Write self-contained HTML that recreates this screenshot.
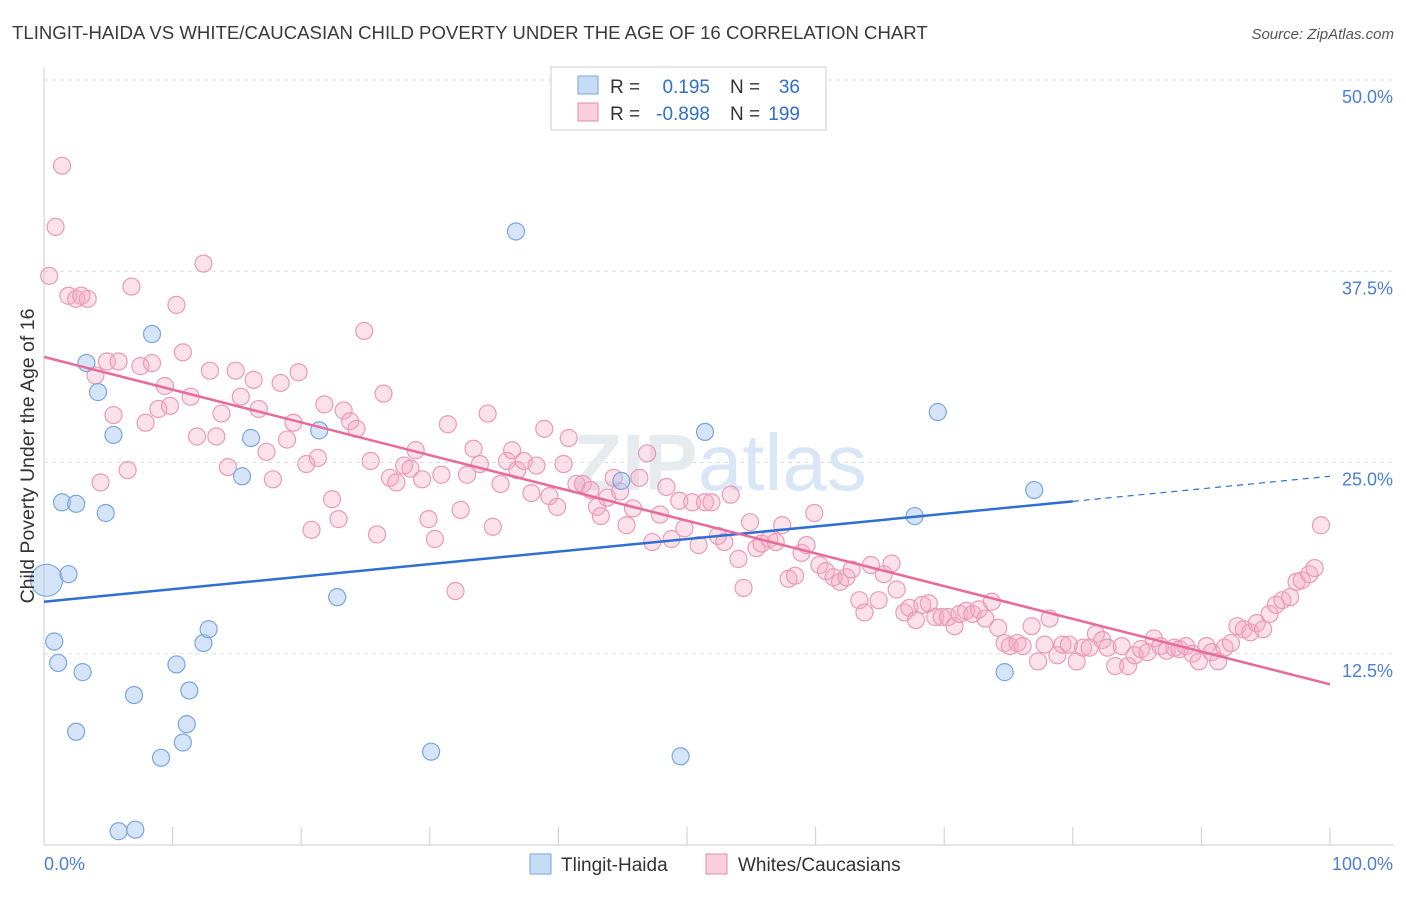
<!DOCTYPE html>
<html><head><meta charset="utf-8"><style>
body{margin:0;background:#fff;font-family:"Liberation Sans",sans-serif;}
svg text{font-family:"Liberation Sans",sans-serif;}
</style></head><body>
<svg id="chart" width="1406" height="892" viewBox="0 0 1406 892" xmlns="http://www.w3.org/2000/svg">
<text x="12" y="39" font-size="18.6" fill="#3a3a3a">TLINGIT-HAIDA VS WHITE/CAUCASIAN CHILD POVERTY UNDER THE AGE OF 16 CORRELATION CHART</text>
<text x="1394" y="39" font-size="15" fill="#555" font-style="italic" text-anchor="end">Source: ZipAtlas.com</text>
<g id="grid"></g>
<text x="720" y="490" font-size="80" fill="#e6ebf0" text-anchor="middle" font-weight="bold">ZIP<tspan fill="#d8e6f5" font-weight="normal">atlas</tspan></text>
<g id="axes"></g>
<g id="marks"></g>
<text transform="translate(34,456) rotate(-90)" font-size="19.5" fill="#333" text-anchor="middle">Child Poverty Under the Age of 16</text>
<g>
<rect x="551" y="67" width="275" height="63" fill="#fff" stroke="#ccc"/>
<rect x="578" y="76" width="20" height="18" fill="#c6dbf5" stroke="#7aa6de"/>
<rect x="578" y="103" width="20" height="18" fill="#f9cfdd" stroke="#e88aaa"/>
<text x="610" y="93" font-size="19" fill="#333">R =</text>
<text x="710" y="93" font-size="19" fill="#2f6fd0" text-anchor="end">0.195</text>
<text x="730" y="93" font-size="19" fill="#333">N =</text>
<text x="800" y="93" font-size="19" fill="#2f6fd0" text-anchor="end">36</text>
<text x="610" y="120" font-size="19" fill="#333">R =</text>
<text x="710" y="120" font-size="19" fill="#2f6fd0" text-anchor="end">-0.898</text>
<text x="730" y="120" font-size="19" fill="#333">N =</text>
<text x="800" y="120" font-size="19" fill="#2f6fd0" text-anchor="end">199</text>
</g>
<g>
<rect x="530" y="854" width="21" height="20" fill="#c6dbf5" stroke="#7aa6de"/>
<text x="561" y="871" font-size="19" fill="#333">Tlingit-Haida</text>
<rect x="706" y="854" width="21" height="20" fill="#f9cfdd" stroke="#e88aaa"/>
<text x="738" y="871" font-size="19" fill="#333">Whites/Caucasians</text>
</g>
</svg>
<script>
const yTicks=[12.5,25,37.5,50];
const yTickLabels=["12.5%","25.0%","37.5%","50.0%"];
const xTicks=[0,10,20,30,40,50,60,70,80,90,100];
const blueX=[0.2,0.8,1.1,1.4,1.9,2.5,2.5,3.0,3.3,4.2,4.8,5.4,5.8,7.0,7.1,8.4,9.1,10.3,10.8,11.1,11.3,12.4,12.8,15.4,16.1,21.4,22.8,30.1,36.7,44.9,49.5,51.4,67.7,69.5,74.7,77.0];
const blueY=[17.3,13.3,11.9,22.4,17.7,22.3,7.4,11.3,31.5,29.6,21.7,26.8,0.9,9.8,1.0,33.4,5.7,11.8,6.7,7.9,10.1,13.2,14.1,24.1,26.6,27.1,16.2,6.1,40.1,23.8,5.8,27.0,21.5,28.3,11.3,23.2];
const pinkX=[1.4,0.9,0.4,1.9,2.5,3.4,2.9,6.8,10.3,12.4,4.0,4.9,5.8,7.5,8.4,10.8,4.4,5.4,6.5,7.9,8.9,9.4,9.8,11.4,11.9,12.9,13.4,13.8,14.3,14.9,15.3,16.3,16.7,17.3,17.8,18.4,18.9,19.4,19.8,20.4,20.8,21.3,21.8,22.4,22.9,23.3,23.8,24.3,24.9,25.4,25.9,26.4,26.9,27.4,28.0,28.5,28.9,29.4,29.9,30.4,30.9,31.4,32.0,32.4,32.9,33.4,33.9,34.5,34.9,35.5,36.0,36.4,36.8,37.3,37.9,38.3,38.9,39.3,39.9,40.4,40.8,41.4,41.9,42.5,43.0,43.3,43.8,44.3,44.8,45.3,45.8,46.3,46.9,47.3,47.9,48.4,48.8,49.4,49.8,50.4,50.9,51.4,51.9,52.4,52.9,53.4,54.0,54.4,54.9,55.4,55.8,56.4,56.9,57.4,57.9,58.4,58.9,59.3,59.9,60.3,60.8,61.4,61.9,62.4,62.8,63.4,63.8,64.3,64.9,65.3,65.9,66.3,66.9,67.3,67.8,68.3,68.8,69.3,69.8,70.3,70.8,71.2,71.7,72.2,72.7,73.2,73.7,74.2,74.7,75.1,75.7,76.1,76.8,77.3,77.8,78.2,78.8,79.2,79.7,80.3,80.8,81.3,81.8,82.3,82.7,83.3,83.8,84.3,84.8,85.3,85.8,86.3,86.8,87.3,87.9,88.3,88.8,89.3,89.8,90.4,90.8,91.3,91.8,92.3,92.8,93.3,93.8,94.3,94.8,95.3,95.8,96.3,96.9,97.4,97.8,98.4,98.8,99.3];
const pinkY=[44.4,40.4,37.2,35.9,35.7,35.7,35.9,36.5,35.3,38.0,30.7,31.6,31.6,31.3,31.5,32.2,23.7,28.1,24.5,27.6,28.5,30.0,28.7,29.3,26.7,31.0,26.7,28.2,24.7,31.0,29.3,30.4,28.5,25.7,23.9,30.2,26.5,27.6,30.9,24.9,20.6,25.3,28.8,22.6,21.3,28.4,27.7,27.2,33.6,25.1,20.3,29.5,24.0,23.7,24.8,24.6,25.8,23.9,21.3,20.0,24.2,27.5,16.6,21.9,24.2,25.9,24.9,28.2,20.8,23.6,25.1,25.8,24.5,25.1,23.0,24.8,27.2,22.8,22.1,24.9,26.6,23.6,23.6,23.2,22.1,21.5,22.7,24.0,23.1,20.9,22.0,24.0,25.6,19.8,21.6,23.4,20.0,22.5,20.7,22.4,19.6,22.4,22.4,20.2,19.8,22.9,18.7,16.8,21.1,19.4,19.7,20.0,19.8,20.9,17.4,17.6,19.1,19.6,21.7,18.3,17.9,17.5,17.2,17.5,18.0,16.0,15.2,18.3,16.0,17.7,18.4,16.7,15.2,15.5,14.7,15.7,15.8,14.9,14.9,14.9,14.3,15.1,15.3,15.1,15.4,14.8,15.9,14.2,13.2,13.0,13.2,13.0,14.3,12.0,13.1,14.8,12.4,13.1,13.1,12.0,12.9,12.9,13.8,13.4,12.9,11.7,13.0,11.7,12.4,12.8,12.6,13.5,13.0,12.7,12.9,12.8,13.0,12.5,12.0,13.0,12.6,12.0,12.9,13.2,14.3,14.1,13.9,14.5,14.1,15.1,15.7,16.0,16.2,17.2,17.3,17.7,18.1,20.9];
const blueTrend=[15.9,24.1];
const blueTrendSolidEnd=[80];
const pinkTrend=[31.9,10.5];

const X0=44,X1=1330,YB=845,YT=80;
const sx=v=>X0+(X1-X0)*v/100;
const sy=v=>YB-(YB-YT)*v/50;
const NS="http://www.w3.org/2000/svg";
function mk(tag,attrs,parent){const e=document.createElementNS(NS,tag);for(const k in attrs)e.setAttribute(k,attrs[k]);parent.appendChild(e);return e;}
const grid=document.getElementById('grid'),axes=document.getElementById('axes'),marks=document.getElementById('marks');
yTicks.forEach((t,i)=>{
  const l=mk('line',{x1:X0,x2:1393,y1:sy(t),y2:sy(t),stroke:'#ddd','stroke-dasharray':'4,4'},grid);
  
  
  const tx=mk('text',{x:1393,y:sy(t)+23,'font-size':18,fill:'#4a7fd4','text-anchor':'end'},axes);
  tx.textContent=yTickLabels[i];
  
  
});
const xl=mk('line',{x1:X0,x2:1393,y1:YB,y2:YB,stroke:'#ccc'},axes);


const yl=mk('line',{x1:X0,x2:X0,y1:68,y2:YB,stroke:'#ccc'},axes);


xTicks.forEach(t=>{
  const l=mk('line',{x1:sx(t),x2:sx(t),y1:YB,y2:YB-18,stroke:'#ccc'},axes);
  
  
});
const x0t=mk('text',{x:44,y:870,'font-size':18,fill:'#4a7fd4'},axes);x0t.textContent='0.0%';


const x1t=mk('text',{x:1393,y:870,'font-size':18,fill:'#4a7fd4','text-anchor':'end'},axes);x1t.textContent='100.0%';



pinkX.forEach((v,i)=>{
  const c=mk('circle',{cx:sx(v),cy:sy(pinkY[i]),r:8.5,fill:'rgba(244,170,196,0.35)',stroke:'#eb9ab6','stroke-width':1.2},marks);
  
  
});
blueX.forEach((v,i)=>{
  const c=mk('circle',{cx:sx(v),cy:sy(blueY[i]),r:i===0?16:8.5,fill:'rgba(164,196,240,0.45)',stroke:'#7aa6de','stroke-width':1.2},marks);
  
  
});
const bAt=x=>blueTrend[0]+(blueTrend[1]-blueTrend[0])*x/100;
const b1=mk('line',{x1:sx(0),y1:sy(bAt(0)),x2:sx(blueTrendSolidEnd[0]),y2:sy(bAt(blueTrendSolidEnd[0])),stroke:'#2f6fd0','stroke-width':2.5},marks);


const b2=mk('line',{x1:sx(blueTrendSolidEnd[0]),y1:sy(bAt(blueTrendSolidEnd[0])),x2:sx(100),y2:sy(bAt(100)),stroke:'#2f6fd0','stroke-width':1.2,'stroke-dasharray':'6,5'},marks);


const p1=mk('line',{x1:sx(0),y1:sy(pinkTrend[0]),x2:sx(100),y2:sy(pinkTrend[1]),stroke:'#e8699a','stroke-width':2.5},marks);


</script>
</body></html>
